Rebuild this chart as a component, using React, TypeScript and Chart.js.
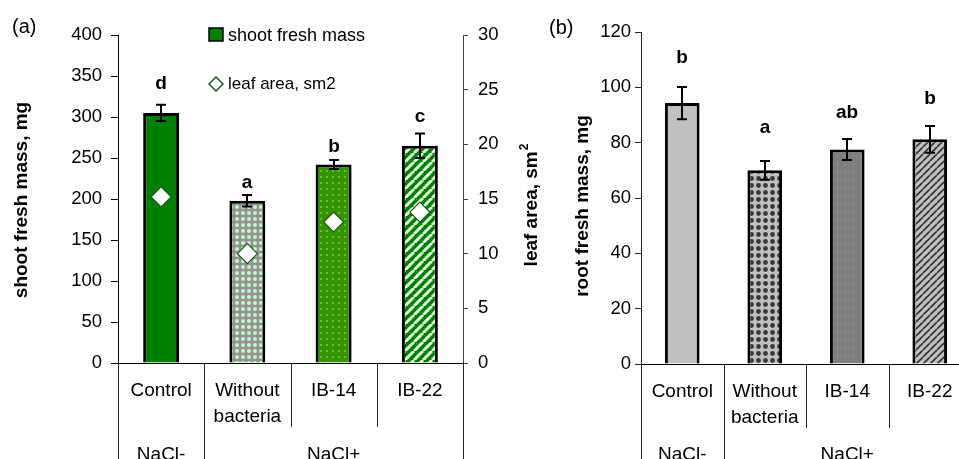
import React, { useEffect, useRef } from "react";
import { Chart, registerables } from "chart.js";

Chart.register(...registerables);

const FAMILY = '"Liberation Sans", Arial, Helvetica, sans-serif';

// ---------------- data ----------------
const categories: (string | string[])[] = ["Control", ["Without", "bacteria"], "IB-14", "IB-22"];
const groupLabels = ["NaCl-", "NaCl+"];
const groupSizes = [1, 3];

const shootMass = [305, 198, 242, 265];
const shootErr = [10, 7, 5.5, 15];
const shootLetters = ["d", "a", "b", "c"];
const shootLetterLevel = [334, 213, 257, 294];
const leafArea = [15.2, 10, 12.9, 13.8];

const rootMass = [94.3, 70, 77.5, 81.2];
const rootErr = [5.8, 3.4, 3.8, 4.8];
const rootLetters = ["b", "a", "ab", "b"];
const rootLetterLevel = [108.8, 83.5, 88.9, 94];

const shootAxis = { min: 0, max: 400, step: 50 };
const leafAxis = { min: 0, max: 30, step: 5 };
const rootAxis = { min: 0, max: 120, step: 20 };

// ---------------- patterns ----------------
function tile(ctx: CanvasRenderingContext2D, size: number, bg: string, draw: (g: CanvasRenderingContext2D, s: number) => void) {
  const c = document.createElement("canvas");
  c.width = size;
  c.height = size;
  const g = c.getContext("2d")!;
  g.fillStyle = bg;
  g.fillRect(0, 0, size, size);
  draw(g, size);
  return ctx.createPattern(c, "repeat")!;
}
function stripes(g: CanvasRenderingContext2D, s: number, color: string, w: number) {
  g.strokeStyle = color;
  g.lineWidth = w;
  g.beginPath();
  for (const o of [-s, 0, s]) {
    g.moveTo(o, s);
    g.lineTo(o + s, 0);
  }
  g.stroke();
}
function dot(g: CanvasRenderingContext2D, color: string, cx: number, cy: number, r: number) {
  g.fillStyle = color;
  g.beginPath();
  g.arc(cx, cy, r, 0, Math.PI * 2);
  g.fill();
}

// ---------------- annotation plugin ----------------
type Annot = {
  yId: string;
  values: number[];
  errs: number[];
  letters: string[];
  letterLevel: number[];
  panel: string;
  panelX: number;
  panelY: number;
  titles: { text: string; sup?: string; x: number; y: number }[];
  innerBottom: number;
  legend?: boolean;
};

function annotPlugin(a: Annot) {
  return {
    id: "annot",
    afterDatasetsDraw(chart: any) {
      const { ctx } = chart;
      const x = chart.scales.x;
      const y = chart.scales[a.yId];
      ctx.save();
      a.values.forEach((v, i) => {
        const px = Math.round(x.getPixelForValue(i));
        const t = y.getPixelForValue(v + a.errs[i]);
        const b = y.getPixelForValue(v - a.errs[i]);
        ctx.strokeStyle = "#000";
        ctx.lineWidth = 2;
        ctx.beginPath();
        ctx.moveTo(px, t);
        ctx.lineTo(px, b);
        ctx.moveTo(px - 5, t);
        ctx.lineTo(px + 5, t);
        ctx.moveTo(px - 5, b);
        ctx.lineTo(px + 5, b);
        ctx.stroke();
        ctx.fillStyle = "#000";
        ctx.font = `bold 19px ${FAMILY}`;
        ctx.textAlign = "center";
        ctx.textBaseline = "alphabetic";
        ctx.fillText(a.letters[i], px, y.getPixelForValue(a.letterLevel[i]));
      });
      ctx.restore();
    },
    afterDraw(chart: any) {
      const { ctx } = chart;
      const x = chart.scales.x;
      ctx.save();
      // category separators below axis
      const step = x.getPixelForValue(1) - x.getPixelForValue(0);
      const start = x.getPixelForValue(0) - step / 2;
      const base = chart.chartArea.bottom;
      const full = new Set<number>([0]);
      let acc = 0;
      groupSizes.forEach((n) => {
        acc += n;
        full.add(acc);
      });
      ctx.strokeStyle = "#222";
      ctx.lineWidth = 1;
      for (let i = 0; i <= categories.length; i++) {
        const px = Math.round(start + i * step) + 0.5;
        ctx.beginPath();
        ctx.moveTo(px, base);
        ctx.lineTo(px, full.has(i) ? chart.height : a.innerBottom);
        ctx.stroke();
      }
      // group labels
      ctx.font = `19px ${FAMILY}`;
      ctx.textAlign = "center";
      ctx.textBaseline = "alphabetic";
      ctx.fillStyle = "#000";
      acc = 0;
      groupLabels.forEach((g, gi) => {
        const c = start + (acc + groupSizes[gi] / 2) * step;
        ctx.fillText(g, c, chart.height + 1);
        acc += groupSizes[gi];
      });
      // axis titles
      a.titles.forEach((t) => {
        ctx.save();
        ctx.translate(t.x, t.y);
        ctx.rotate(-Math.PI / 2);
        ctx.textBaseline = "middle";
        ctx.textAlign = "left";
        ctx.font = `bold 19px ${FAMILY}`;
        const w = ctx.measureText(t.text).width;
        let sw = 0;
        if (t.sup) {
          ctx.font = `bold 12px ${FAMILY}`;
          sw = ctx.measureText(t.sup).width + 1;
        }
        const x0 = -(w + sw) / 2;
        ctx.fillStyle = "#000";
        ctx.font = `bold 19px ${FAMILY}`;
        ctx.fillText(t.text, x0, 0);
        if (t.sup) {
          ctx.font = `bold 12px ${FAMILY}`;
          ctx.fillText(t.sup, x0 + w + 1, -7);
        }
        ctx.restore();
      });
      // panel label
      ctx.font = `20px ${FAMILY}`;
      ctx.textAlign = "left";
      ctx.textBaseline = "alphabetic";
      ctx.fillStyle = "#000";
      ctx.fillText(a.panel, a.panelX, a.panelY);
      // legend
      if (a.legend) {
        const ds = chart.data.datasets;
        ctx.fillStyle = "#008000";
        ctx.fillRect(209, 28, 14, 13);
        ctx.strokeStyle = "#000";
        ctx.lineWidth = 1.5;
        ctx.strokeRect(209, 28, 14, 13);
        ctx.fillStyle = "#000";
        ctx.font = `18px ${FAMILY}`;
        ctx.fillText(ds[0].label, 228, 41);
        ctx.beginPath();
        ctx.moveTo(216, 77);
        ctx.lineTo(223, 84);
        ctx.lineTo(216, 91);
        ctx.lineTo(209, 84);
        ctx.closePath();
        ctx.fillStyle = "#fff";
        ctx.fill();
        ctx.strokeStyle = "#1e5a1e";
        ctx.lineWidth = 1.5;
        ctx.stroke();
        ctx.fillStyle = "#000";
        ctx.font = `17px ${FAMILY}`;
        ctx.fillText(ds[1].label, 228, 89);
      }
      ctx.restore();
    },
  };
}

function xScale(height: number) {
  return {
    type: "category",
    offset: true,
    grid: { display: false, drawTicks: false, tickLength: 0 },
    border: { display: true, color: "#000", width: 1 },
    ticks: {
      color: "#000",
      font: { size: 19, family: FAMILY, lineHeight: 1.35 },
      padding: 15,
      maxRotation: 0,
      minRotation: 0,
      autoSkip: false,
    },
    afterFit: (s: any) => {
      s.height = height;
    },
  };
}

function yScale(pos: string, ax: { min: number; max: number; step: number }, width: number, tickLen: number, pad: number, color: string) {
  return {
    position: pos,
    min: ax.min,
    max: ax.max,
    ticks: { stepSize: ax.step, color: "#000", font: { size: 18.5, family: FAMILY }, padding: pad },
    grid: { drawOnChartArea: false, color, tickLength: tickLen, lineWidth: 1 },
    border: { color, width: 1 },
    afterFit: (s: any) => {
      s.width = width;
    },
  };
}

export default function App() {
  const refA = useRef<HTMLCanvasElement>(null);
  const refB = useRef<HTMLCanvasElement>(null);

  useEffect(() => {
    const cA = refA.current!;
    const cB = refB.current!;
    const ctxA = cA.getContext("2d")!;
    const ctxB = cB.getContext("2d")!;

    const shootFill = [
      "#008000",
      tile(ctxA, 6, "#939393", (g) => dot(g, "#c4f7c4", 3, 3, 2.0)),
      tile(ctxA, 6, "#339400", (g) => {
        g.fillStyle = "#6cc010";
        g.fillRect(2, 2, 2, 2);
      }),
      tile(ctxA, 9, "#008000", (g, s) => stripes(g, s, "#e2ffe2", 3)),
    ];
    const rootFill = [
      "#c0c0c0",
      tile(ctxB, 7, "#c0c0c0", (g) => dot(g, "#383838", 3.5, 3.5, 2.4)),
      tile(ctxB, 8, "#7f7f7f", (g) => {
        g.fillStyle = "#b4b4b4";
        g.fillRect(4, 4, 1, 1);
      }),
      tile(ctxB, 7, "#c0c0c0", (g, s) => stripes(g, s, "#333", 1.6)),
    ];

    const chartA = new Chart(ctxA, {
      data: {
        labels: categories as any,
        datasets: [
          {
            type: "bar",
            label: "shoot fresh mass",
            data: shootMass,
            backgroundColor: shootFill as any,
            borderColor: "#000",
            borderWidth: 3,
            yAxisID: "y",
            barPercentage: 0.417,
            categoryPercentage: 1,
            order: 2,
          },
          {
            type: "line",
            label: "leaf area, sm2",
            data: leafArea,
            showLine: false,
            pointStyle: "rectRot",
            pointRadius: 10,
            pointBackgroundColor: "#fff",
            pointBorderColor: "#1e5a1e",
            pointBorderWidth: 1.2,
            yAxisID: "y2",
            order: 1,
          } as any,
        ],
      },
      options: {
        responsive: false,
        animation: false,
        devicePixelRatio: 1,
        events: [],
        layout: { padding: { top: 35, left: 0, right: 0, bottom: 0 } },
        plugins: { legend: { display: false }, tooltip: { enabled: false } },
        scales: {
          x: xScale(96) as any,
          y: yScale("left", shootAxis, 118, 7, 9, "#000") as any,
          y2: yScale("right", leafAxis, 82, 5, 10, "#404040") as any,
        },
      },
      plugins: [
        annotPlugin({
          yId: "y",
          values: shootMass,
          errs: shootErr,
          letters: shootLetters,
          letterLevel: shootLetterLevel,
          panel: "(a)",
          panelX: 12,
          panelY: 33,
          titles: [
            { text: "shoot fresh mass, mg", x: 22, y: 200 },
            { text: "leaf area, sm", sup: "2", x: 532, y: 205 },
          ],
          innerBottom: 427,
          legend: true,
        }) as any,
      ],
    });

    const chartB = new Chart(ctxB, {
      type: "bar",
      data: {
        labels: categories as any,
        datasets: [
          {
            label: "root fresh mass",
            data: rootMass,
            backgroundColor: rootFill as any,
            borderColor: "#000",
            borderWidth: 3,
            barPercentage: 0.42,
            categoryPercentage: 1,
          },
        ],
      },
      options: {
        responsive: false,
        animation: false,
        devicePixelRatio: 1,
        events: [],
        layout: { padding: { top: 32, left: 0, right: 0, bottom: 0 } },
        plugins: { legend: { display: false }, tooltip: { enabled: false } },
        scales: {
          x: xScale(95) as any,
          y: yScale("left", rootAxis, 96, 6, 4, "#222") as any,
        },
      },
      plugins: [
        annotPlugin({
          yId: "y",
          values: rootMass,
          errs: rootErr,
          letters: rootLetters,
          letterLevel: rootLetterLevel,
          panel: "(b)",
          panelX: 4,
          panelY: 34,
          titles: [{ text: "root fresh mass, mg", x: 38, y: 206 }],
          innerBottom: 428,
        }) as any,
      ],
    });

    return () => {
      chartA.destroy();
      chartB.destroy();
    };
  }, []);

  return (
    <div
      style={{
        position: "absolute",
        left: 0,
        top: 0,
        width: 959,
        height: 459,
        overflow: "hidden",
        background: "#fff",
      }}
    >
      <canvas
        ref={refA}
        width={545}
        height={459}
        style={{ position: "absolute", left: 0, top: 0, width: 545, height: 459 }}
      />
      <canvas
        ref={refB}
        width={426}
        height={459}
        style={{ position: "absolute", left: 545, top: 0, width: 426, height: 459 }}
      />
    </div>
  );
}
